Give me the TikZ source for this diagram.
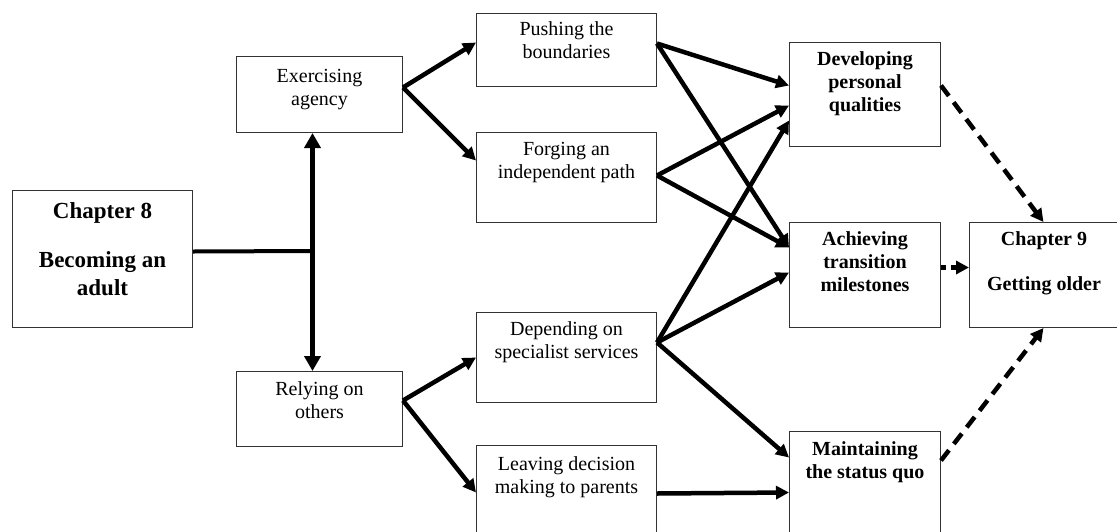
\documentclass[tikz,border=0pt]{standalone}
\usepackage{fontspec}
\setmainfont{Liberation Serif}
\usetikzlibrary{arrows.meta}
\tikzset{
  box/.style={draw=black!80, line width=1pt, rectangle, inner sep=0pt, anchor=north west},
  txt/.style={align=center, inner sep=0pt, anchor=base, font=\fontsize{20}{23}\selectfont},
  btxt/.style={txt, font=\fontsize{20}{23}\selectfont\bfseries},
  conn/.style={line width=4.5pt, -{Triangle[length=13pt,width=13pt]}},
  dconn/.style={line width=4.5pt, dash pattern=on 13pt off 8pt, -{Triangle[length=13pt,width=13pt]}},
  sconn/.style={line width=4.5pt, dash pattern=on 5pt off 5pt, -{Triangle[length=13pt,width=13pt]}},
}
\begin{document}
\begin{tikzpicture}[x=1pt,y=-1pt]
\useasboundingbox (0,0) rectangle (1117,531);
% boxes
\node[box, minimum width=180pt, minimum height=137pt] (ch8) at (12,190) {};
\node[box, minimum width=166pt, minimum height=76pt] (ex) at (236,56) {};
\node[box, minimum width=166pt, minimum height=75pt] (rel) at (236,371) {};
\node[box, minimum width=180pt, minimum height=73pt] (push) at (476,13) {};
\node[box, minimum width=180pt, minimum height=90pt] (forg) at (476,132) {};
\node[box, minimum width=180pt, minimum height=90pt] (dep) at (476,312) {};
\node[box, minimum width=180pt, minimum height=90pt] (leav) at (476,445) {};
\node[box, minimum width=151pt, minimum height=104pt] (dev) at (789,42) {};
\node[box, minimum width=151pt, minimum height=105pt] (ach) at (789,222) {};
\node[box, minimum width=151pt, minimum height=104pt] (mq) at (789,431) {};
\node[box, minimum width=149pt, minimum height=105pt] (ch9) at (969,222) {};
% texts (anchor = baseline of the last line)
\node[btxt, font=\fontsize{23}{28}\selectfont\bfseries] (ch8t) at ([yshift=-105pt]ch8.north) {Chapter 8\\[21pt]Becoming an\\adult};
\node[txt] (ext) at ([yshift=-49pt]ex.north) {Exercising\\agency};
\node[txt] (relt) at ([yshift=-47pt]rel.north) {Relying on\\others};
\node[txt] (pusht) at ([yshift=-45pt]push.north) {Pushing the\\boundaries};
\node[txt] (forgt) at ([yshift=-46pt]forg.north) {Forging an\\independent path};
\node[txt] (dept) at ([yshift=-46pt]dep.north) {Depending on\\specialist services};
\node[txt] (leavt) at ([yshift=-48pt]leav.north) {Leaving decision\\making to parents};
\node[btxt] (devt) at ([yshift=-69pt]dev.north) {Developing\\personal\\qualities};
\node[btxt] (acht) at ([yshift=-69pt]ach.north) {Achieving\\transition\\milestones};
\node[btxt] (mqt) at ([yshift=-47pt]mq.north) {Maintaining\\the status quo};
\node[btxt] (ch9t) at ([yshift=-68pt]ch9.north) {Chapter 9\\[22pt]Getting older};
% chapter 8 to the vertical bar
\coordinate (jn) at (312,251);
\draw[line width=4pt] ([yshift=7.5pt]ch8.east) -- (jn);
\draw[line width=5pt, {Triangle[length=15pt,width=16pt]}-{Triangle[length=15pt,width=16pt]}] ([xshift=-7pt]ex.south) -- ([xshift=-7pt]rel.north);
% left fan-outs
\draw[conn] ([yshift=7pt]ex.east) -- ([yshift=7.5pt]push.west);
\draw[conn] ([yshift=7pt]ex.east) -- ([yshift=17pt]forg.west);
\draw[conn] ([yshift=8.5pt]rel.east) -- (dep.west);
\draw[conn] ([yshift=8.5pt]rel.east) -- ([yshift=-2pt]leav.west);
% middle to right
\draw[conn] ([yshift=6.5pt]push.east) -- ([yshift=9pt]dev.west);
\draw[conn] ([yshift=6.5pt]push.east) -- ([yshift=27.5pt]ach.west);
\draw[conn] ([yshift=2pt]forg.east) -- ([yshift=-11pt]dev.west);
\draw[conn] ([yshift=2pt]forg.east) -- ([yshift=27.5pt]ach.west);
\draw[conn] ([yshift=15pt]dep.east) -- ([yshift=-26pt]dev.west);
\draw[conn] ([yshift=15pt]dep.east) -- ([yshift=2.5pt]ach.west);
\draw[conn] ([yshift=15pt]dep.east) -- ([yshift=26pt]mq.west);
\draw[conn] ([yshift=-3pt]leav.east) -- ([yshift=-9pt]mq.west);
% to chapter 9
\draw[dconn] ([yshift=9pt]dev.east) -- ([xshift=-0.5pt]ch9.north);
\draw[sconn] ([yshift=7.5pt]ach.east) -- ([yshift=7.5pt]ch9.west);
\draw[dconn] ([yshift=23pt]mq.east) -- ([xshift=-0.5pt]ch9.south);
\end{tikzpicture}
\end{document}
